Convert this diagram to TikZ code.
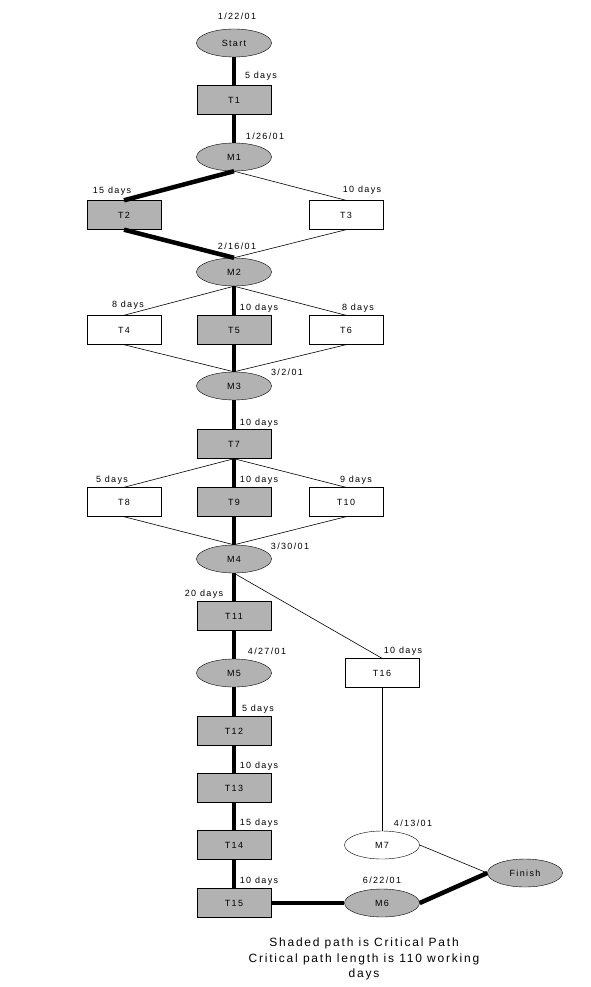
\documentclass[tikz,border=0pt]{standalone}
\usepackage{fontspec}
\setmainfont{Liberation Sans}
\newfontfamily\lblfont[LetterSpace=15]{Liberation Sans}
\usetikzlibrary{shapes.geometric}

\tikzset{
    ms/.style={ellipse, draw, fill=black!30, minimum width=75pt, minimum height=28pt, inner sep=0pt, font=\lblfont\fontsize{9}{10}\selectfont},
    task/.style={rectangle, draw, fill=black!30, minimum width=74pt, minimum height=29pt, inner sep=0pt, font=\lblfont\fontsize{9}{10}\selectfont},
    free/.style={fill=white},
    lbl/.style={inner sep=0pt, font=\lblfont\fontsize{9}{10}\selectfont},
    crit/.style={line width=4.5pt},
    slack/.style={line width=0.6pt}
}

\begin{document}
\begin{tikzpicture}[x=1pt, y=-1pt, line cap=butt]
            \useasboundingbox (0,0) rectangle (591,987);

            % milestones
            \node[ms] (Start) at (234,43) {Start};
            \node[ms] (M1) at (234,157) {M1};
            \node[ms] (M2) at (234,272) {M2};
            \node[ms] (M3) at (234,386) {M3};
            \node[ms] (M4) at (234,559) {M4};
            \node[ms] (M5) at (234,673) {M5};
            \node[ms] (M6) at (382,903) {M6};
            \node[ms, free] (M7) at (382,845) {M7};
            \node[ms] (Finish) at (525,873) {Finish};

            % tasks
            \node[task] (T1) at (234,100) {T1};
            \node[task] (T2) at (124,215) {T2};
            \node[task, free] (T3) at (346,215) {T3};
            \node[task, free] (T4) at (124,330) {T4};
            \node[task] (T5) at (234,330) {T5};
            \node[task, free] (T6) at (346,330) {T6};
            \node[task] (T7) at (234,444) {T7};
            \node[task, free] (T8) at (124,502) {T8};
            \node[task] (T9) at (234,502) {T9};
            \node[task, free] (T10) at (346,502) {T10};
            \node[task] (T11) at (234,616) {T11};
            \node[task] (T12) at (234,731) {T12};
            \node[task] (T13) at (234,788) {T13};
            \node[task] (T14) at (234,845) {T14};
            \node[task] (T15) at (234,903) {T15};
            \node[task, free] (T16) at (382,673) {T16};

            % critical path
            \draw[crit] (Start.south) -- (T1.north);
            \draw[crit] (T1.south) -- (M1.north);
            \draw[crit] (M1.south) -- (T2.north);
            \draw[crit] (T2.south) -- (M2.north);
            \draw[crit] (M2.south) -- (T5.north);
            \draw[crit] (T5.south) -- (M3.north);
            \draw[crit] (M3.south) -- (T7.north);
            \draw[crit] (T7.south) -- (T9.north);
            \draw[crit] (T9.south) -- (M4.north);
            \draw[crit] (M4.south) -- (T11.north);
            \draw[crit] (T11.south) -- (M5.north);
            \draw[crit] (M5.south) -- (T12.north);
            \draw[crit] (T12.south) -- (T13.north);
            \draw[crit] (T13.south) -- (T14.north);
            \draw[crit] (T14.south) -- (T15.north);
            \draw[crit] (T15.east) -- (M6.west);
            \draw[crit] (M6.east) -- (Finish.west);

            % other paths
            \draw[slack] (M1.south) -- (T3.north);
            \draw[slack] (T3.south) -- (M2.north);
            \draw[slack] (M2.south) -- (T4.north);
            \draw[slack] (M2.south) -- (T6.north);
            \draw[slack] (T4.south) -- (M3.north);
            \draw[slack] (T6.south) -- (M3.north);
            \draw[slack] (T7.south) -- (T8.north);
            \draw[slack] (T7.south) -- (T10.north);
            \draw[slack] (T8.south) -- (M4.north);
            \draw[slack] (T10.south) -- (M4.north);
            \draw[slack] (M4.south) -- (T16.north);
            \draw[slack] (T16.south) -- (M7.north);
            \draw[slack] (M7.east) -- (Finish.west);

            % dates
            \node[lbl] (dStart) at (237,16) {1/22/01};
            \node[lbl] (dM1) at (265,136) {1/26/01};
            \node[lbl] (dM2) at (237,246) {2/16/01};
            \node[lbl] (dM3) at (287,372) {3/2/01};
            \node[lbl] (dM4) at (290,546) {3/30/01};
            \node[lbl] (dM5) at (267,651) {4/27/01};
            \node[lbl] (dM7) at (413,823) {4/13/01};
            \node[lbl] (dM6) at (382,880) {6/22/01};

            % durations
            \node[lbl] (lT1) at (261,76) {5 days};
            \node[lbl] (lT2) at (112,191) {15 days};
            \node[lbl] (lT3) at (362,190) {10 days};
            \node[lbl] (lT4) at (128,305) {8 days};
            \node[lbl] (lT5) at (259,308) {10 days};
            \node[lbl] (lT6) at (358,308) {8 days};
            \node[lbl] (lT7) at (259,423) {10 days};
            \node[lbl] (lT8) at (112,480) {5 days};
            \node[lbl] (lT9) at (259,480) {10 days};
            \node[lbl] (lT10) at (356,480) {9 days};
            \node[lbl] (lT11) at (204,594) {20 days};
            \node[lbl] (lT12) at (258,709) {5 days};
            \node[lbl] (lT13) at (259,766) {10 days};
            \node[lbl] (lT14) at (259,823) {15 days};
            \node[lbl] (lT15) at (259,881) {10 days};
            \node[lbl] (lT16) at (403,651) {10 days};

            % note
            \node[align=center, inner sep=0pt, font=\lblfont\fontsize{12}{15.5}\selectfont] (note) at (364,959)
                {Shaded path is Critical Path\\Critical path length is 110 working\\days};
        \end{tikzpicture}
\end{document}
